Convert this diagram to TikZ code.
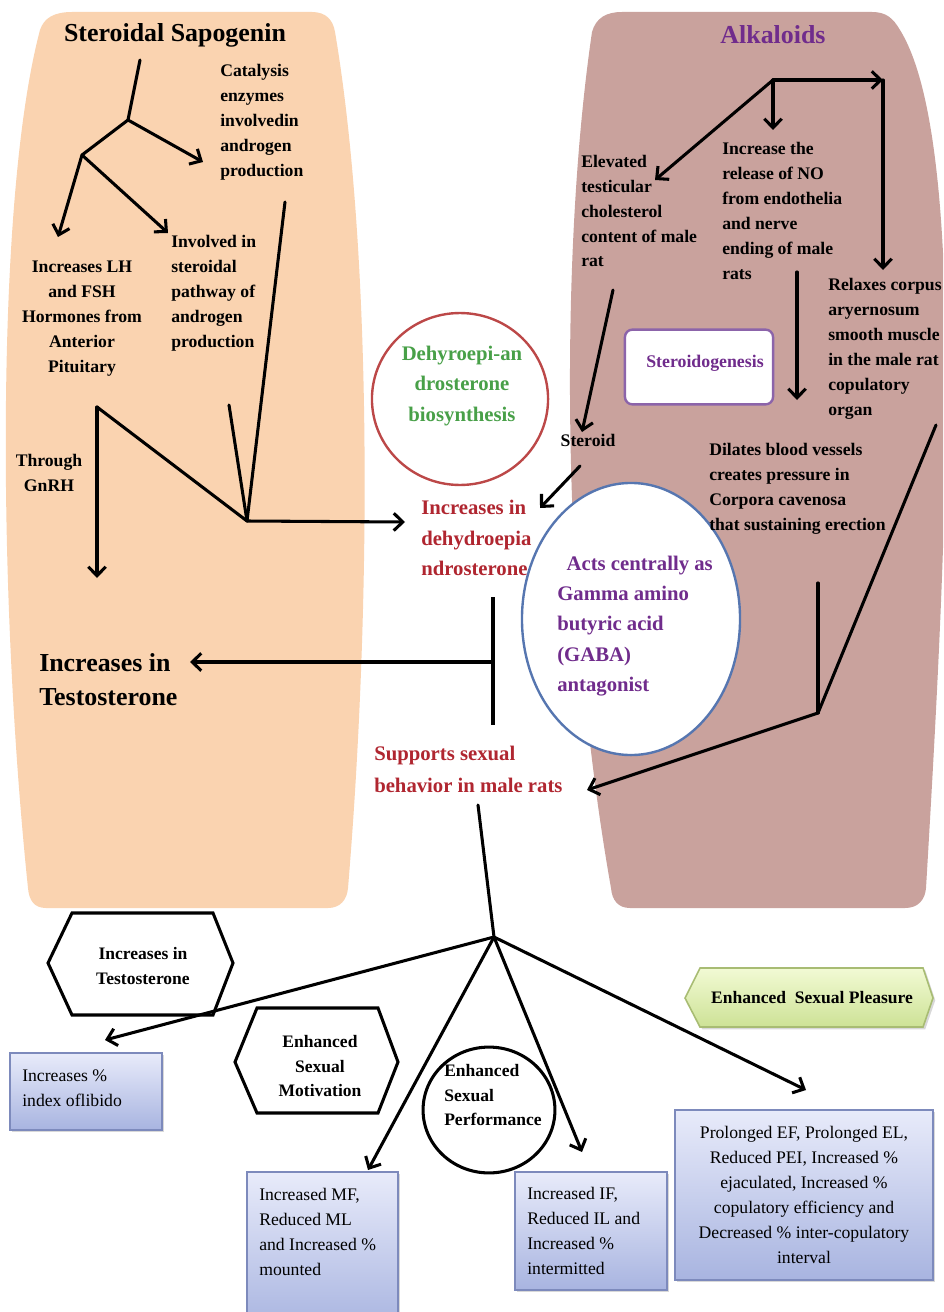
\documentclass[tikz,border=0pt]{standalone}
\usepackage{fontspec}
\setmainfont{Liberation Serif}
\usetikzlibrary{arrows.meta,shadows,shapes.geometric}
\definecolor{peach}{RGB}{250,211,176}
\definecolor{mauve}{RGB}{201,162,157}
\definecolor{dred}{RGB}{176,38,48}
\definecolor{dgreen}{RGB}{72,160,72}
\definecolor{dpurple}{RGB}{112,44,140}
\definecolor{cred}{RGB}{188,72,72}
\definecolor{cblue}{RGB}{86,118,176}
\definecolor{spurple}{RGB}{140,100,170}
\definecolor{boxtop}{RGB}{232,235,250}
\definecolor{boxbot}{RGB}{168,180,224}
\definecolor{boxline}{RGB}{125,138,188}
\definecolor{gtop}{RGB}{242,250,212}
\definecolor{gbot}{RGB}{205,226,150}
\definecolor{gline}{RGB}{168,188,115}
\begin{document}
\begin{tikzpicture}[x=0.2646mm,y=-0.2646mm,
 ln/.style={line width=2.3pt,line cap=round,line join=miter},
 ar/.style={ln,-{Straight Barb[length=2.4mm,width=4.6mm]}},
 t/.style={inner sep=0pt,font=\bfseries\fontsize{13.3}{18.8}\selectfont,align=left},
 tb/.style={inner sep=0pt,font=\bfseries\fontsize{13.2}{18.2}\selectfont,align=center},
 tr/.style={inner sep=0pt,font=\fontsize{13.3}{18.8}\selectfont,align=left},
 big/.style={inner sep=0pt,font=\bfseries\fontsize{19.5}{25.5}\selectfont,align=left},
 mid/.style={inner sep=0pt,font=\bfseries\fontsize{15.6}{23}\selectfont},
 bbox/.style={draw=boxline,line width=1.2pt,top color=boxtop,bottom color=boxbot,drop shadow={opacity=0.3,shadow xshift=0.6mm,shadow yshift=-0.6mm}},
 hexa/.style={draw=black,line width=2.3pt,line join=miter,fill=white}]
\useasboundingbox (0,0) rectangle (943,1312);
\clip (0,0) rectangle (943,1312);
\fill[white] (0,0) rectangle (943,1312);
% background shapes
\fill[peach] (72,12) -- (312,12) .. controls (326,12) and (333,20) .. (335,32)
  .. controls (372,250) and (372,600) .. (348,888)
  .. controls (347,900) and (340,908) .. (328,908) -- (46,908)
  .. controls (34,908) and (29,900) .. (28,888)
  .. controls (-2,600) and (-5,200) .. (40,30)
  .. controls (44,18) and (54,12) .. (72,12) -- cycle;
\fill[mauve] (622,12) -- (872,12) .. controls (886,12) and (893,18) .. (900,30)
  .. controls (968,140) and (946,550) .. (926,888)
  .. controls (925,900) and (918,908) .. (905,908) -- (630,908)
  .. controls (618,908) and (612,900) .. (611,888)
  .. controls (560,600) and (560,250) .. (592,32)
  .. controls (596,18) and (606,12) .. (622,12) -- cycle;
% circles and boxes
\node[ellipse,draw=cred,line width=1.8pt,fill=white,minimum width=46.6mm,minimum height=45.5mm,inner sep=0] (dhea) at (460,399) {};
\node[ellipse,draw=cblue,line width=1.8pt,fill=white,minimum width=57.7mm,minimum height=72mm,inner sep=0] (gaba) at (631,619) {};
\node[rectangle,rounded corners=2mm,draw=spurple,line width=1.8pt,fill=white,minimum width=39.2mm,minimum height=19.8mm,inner sep=0] (stg) at (699,367) {};
\draw[hexa] (48,963) -- (72,913) -- (213,913) -- (233,963) -- (213,1015) -- (72,1015) -- cycle;
\draw[hexa] (235,1062) -- (257,1008) -- (378,1008) -- (398,1062) -- (378,1113) -- (257,1113) -- cycle;
\draw[draw=gline,line width=1.2pt,top color=gtop,bottom color=gbot,drop shadow={opacity=0.3,shadow xshift=0.6mm,shadow yshift=-0.6mm}] (685,998) -- (700,968) -- (923,968) -- (933,998) -- (923,1027) -- (700,1027) -- cycle;
\node[ellipse,draw,line width=2.3pt,minimum width=34.9mm,minimum height=33.3mm,inner sep=0] (perf) at (489,1110) {};
\draw[bbox] (10,1053) rectangle (162,1130);
\draw[bbox] (247,1172) rectangle (398,1330);
\draw[bbox] (515,1172) rectangle (667,1290);
\draw[bbox] (675,1110) rectangle (933,1280);
% coordinates
\coordinate (a0) at (140,60);
\coordinate (j1) at (128,120);
\coordinate (j2) at (82,155);
\coordinate (catin) at (203,162);
\coordinate (lhin) at (58,237);
\coordinate (invin) at (168,233);
\coordinate (a1) at (285,202);
\coordinate (a2) at (229,405);
\coordinate (j3) at (247,521);
\coordinate (j4) at (97,407);
\coordinate (gnin) at (97,578);
\coordinate (dhin) at (405,522);
\coordinate (st0) at (580,466);
\coordinate (st1) at (540,508);
\coordinate (tb0) at (493,597);
\coordinate (tb1) at (493,725);
\coordinate (tbm) at (493,662);
\coordinate (tein) at (190,662);
\coordinate (r1) at (773,80);
\coordinate (r2) at (883,80);
\coordinate (relin) at (883,270);
\coordinate (noin) at (773,130);
\coordinate (elin) at (655,180);
\coordinate (s0) at (613,290);
\coordinate (s1) at (582,432);
\coordinate (d0) at (797,272);
\coordinate (d1) at (797,400);
\coordinate (e0) at (936,425);
\coordinate (e1) at (818,583);
\coordinate (ej) at (818,713);
\coordinate (suin) at (587,790);
\coordinate (f0) at (478,805);
\coordinate (fj) at (494,937);
\coordinate (f1) at (105,1040);
\coordinate (f2) at (368,1170);
\coordinate (f3) at (582,1152);
\coordinate (f4) at (806,1090);
% connectors
\draw[ln] (a0) -- (j1) -- (j2);
\draw[ar] (j1) -- (catin);
\draw[ar] (j2) -- (lhin);
\draw[ar] (j2) -- (invin);
\draw[ln] (a1) -- (j3);
\draw[ln] (a2) -- (j3);
\draw[ln] (j4) -- (j3);
\draw[ar] (j4) -- (gnin);
\draw[ar] (j3) -- (dhin);
\draw[ar] (st0) -- (st1);
\draw[ln,line cap=butt] (tb0) -- (tb1);
\draw[ar] (tbm) -- (tein);
\draw[ar] (r1) -- (r2);
\draw[ar] (r2) -- (relin);
\draw[ar] (r1) -- (noin);
\draw[ar] (r1) -- (elin);
\draw[ar] (s0) -- (s1);
\draw[ar] (d0) -- (d1);
\draw[ln] (e0) -- (ej);
\draw[ln] (e1) -- (ej);
\draw[ar] (ej) -- (suin);
\draw[ln] (f0) -- (fj);
\draw[ar] (fj) -- (f1);
\draw[ar] (fj) -- (f2);
\draw[ar] (fj) -- (f3);
\draw[ar] (fj) -- (f4);
% texts left
\node[big,align=center] (ssap) at (175,35) {Steroidal Sapogenin};
\node[t,anchor=west] (cat) at (220,122) {Catalysis\\enzymes\\involvedin\\androgen\\production};
\node[t,align=center] (lh) at (82,319) {Increases LH\\and FSH\\Hormones from\\Anterior\\Pituitary};
\node[t,anchor=west] (inv) at (171,293) {Involved in\\steroidal\\pathway of\\androgen\\production};
\node[t,align=center] (gnrh) at (49,473) {Through\\GnRH};
\node[big,anchor=west] (test) at (39,680) {Increases in\\Testosterone};
% texts center
\node[mid,text=dgreen,align=center] (dheat) at (462,386) {Dehyroepi-an\\drosterone\\biosynthesis};
\node[mid,text=dred,anchor=west,align=left] (incd) at (421,538) {Increases in\\dehydroepia\\ndrosterone};
\node[t] (ster) at (588,440) {Steroid};
\node[inner sep=0pt,font=\bfseries\fontsize{15.6}{22.9}\selectfont,text=dpurple,anchor=west,align=left] (gabat) at (557,626) {\hspace{0.45em}Acts centrally as\\Gamma amino\\butyric acid\\(GABA)\\antagonist};
\node[inner sep=0pt,font=\bfseries\fontsize{15.6}{24}\selectfont,text=dred,anchor=west,align=left] (supp) at (374,769) {Supports sexual\\behavior in male rats};
% texts right
\node[big,text=dpurple,align=center] (alk) at (773,35) {Alkaloids};
\node[t,anchor=west] (elev) at (581,211) {Elevated\\testicular\\cholesterol\\content of male\\rat};
\node[t,anchor=west] (incno) at (722,211) {Increase the\\release of NO\\from endothelia\\and nerve\\ending of male\\rats};
\node[t,anchor=west] (relax) at (828,349) {Relaxes corpus\\aryernosum\\smooth muscle\\in the male rat\\copulatory\\organ};
\node[inner sep=0pt,font=\bfseries\fontsize{13.4}{16}\selectfont,text=dpurple] (stgt) at (705,363) {Steroidogenesis};
\node[t,anchor=west] (dil) at (709,489) {Dilates blood vessels\\creates pressure in\\Corpora cavenosa\\that sustaining erection};
% texts bottom
\node[tb] (hex1t) at (143,966) {Increases in\\Testosterone};
\node[tb] (hex2t) at (320,1066) {Enhanced\\Sexual\\Motivation};
\node[tb,align=left,anchor=west] (perft) at (444,1095) {Enhanced\\Sexual\\Performance};
\node[tb] (plt) at (812,998) {Enhanced\ \ Sexual Pleasure};
\node[tr,anchor=west] (lib) at (22,1088) {Increases \%\\index oflibido};
\node[tr,anchor=west] (mf) at (259,1232) {Increased MF,\\Reduced ML\\and Increased \%\\mounted};
\node[tr,anchor=west] (ift) at (527,1231) {Increased IF,\\Reduced IL and\\Increased \%\\intermitted};
\node[tr,align=center] (eft) at (804,1195) {Prolonged EF, Prolonged EL,\\Reduced PEI, Increased \%\\ejaculated, Increased \%\\copulatory efficiency and\\Decreased \% inter-copulatory\\interval};
\end{tikzpicture}
\end{document}
